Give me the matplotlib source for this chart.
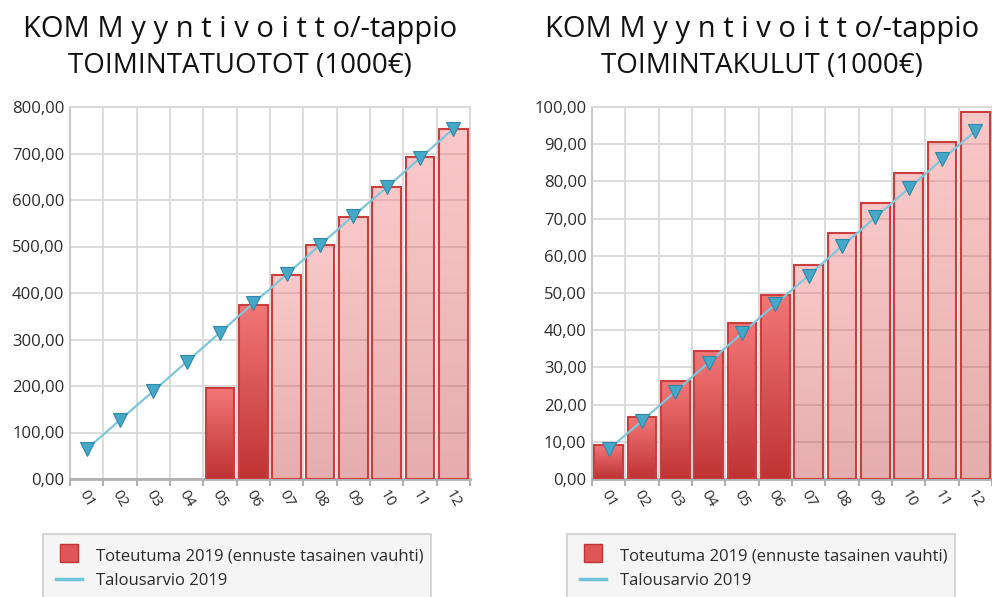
import numpy as np
import matplotlib
matplotlib.use("Agg")
import matplotlib.pyplot as plt
from matplotlib.lines import Line2D
from matplotlib.colors import LinearSegmentedColormap

# data
months = ["01", "02", "03", "04", "05", "06", "07", "08", "09", "10", "11", "12"]
n_actual = 6  # months 01-06 realised, 07-12 forecast at constant pace

tuotot_toteutuma = [0, 0, 0, 0, 195, 375, 438, 503, 563, 628, 692, 753]
tuotot_budjetti = [64, 127, 189, 252, 315, 378, 440, 503, 566, 627, 690, 753]

kulut_toteutuma = [9.1, 16.6, 26.3, 34.4, 41.9, 49.5, 57.5, 66.0, 74.1, 82.2, 90.7, 98.7]
kulut_budjetti = [8.0, 15.6, 23.5, 31.3, 39.2, 47.0, 54.7, 62.6, 70.3, 78.1, 85.9, 93.5]

title1 = "KOM M y y n t i v o i t t o/-tappio"
titles2 = ["TOIMINTATUOTOT (1000€)", "TOIMINTAKULUT (1000€)"]
legend_labels = ["Toteutuma 2019 (ennuste tasainen vauhti)", "Talousarvio 2019"]

plt.rcParams["font.family"] = ["Open Sans", "DejaVu Sans"]

W, H = 992, 597
fig = plt.figure(figsize=(W / 100, H / 100), dpi=100)

red_cmap = LinearSegmentedColormap.from_list("red", ["#bf3333", "#f27676"])
text_col = "#2b2b2b"
grid_col = "#d9d9d9"


def px_axes(x0, y0, x1, y1):
    return fig.add_axes([x0 / W, 1 - y1 / H, (x1 - x0) / W, (y1 - y0) / H])


def draw_chart(ax, vals, budget, ymax, ystep):
    x = np.arange(len(months))
    grad = np.linspace(0, 1, 100).reshape(-1, 1)
    for i, v in enumerate(vals):
        if v <= 0:
            continue
        a = 0.4 if i >= n_actual else 1.0
        bars = ax.bar(x[i], v, width=0.86, facecolor="none",
                      edgecolor="#cc3e3e", linewidth=1.5, zorder=3)
        im = ax.imshow(grad, cmap=red_cmap, aspect="auto", origin="lower",
                       extent=(x[i] - 0.43, x[i] + 0.43, 0, v), alpha=a, zorder=2)
        im.set_clip_path(bars[0])
    ax.set_xlim(-0.5, len(months) - 0.5)
    ax.set_ylim(0, ymax)

    ax.plot(x, budget, color="#7ec6da", lw=1.6, zorder=4,
            marker="v", markersize=10, markerfacecolor="#45a8c8",
            markeredgecolor="#2f88a6", markeredgewidth=0.8)

    ax.set_axisbelow(True)
    yt = np.arange(0, ymax + 0.1, ystep)
    ax.set_yticks(yt)
    ax.set_yticklabels([f"{v:.2f}".replace(".", ",") for v in yt])
    ax.set_xticks(x)
    ax.set_xticklabels(months, rotation=-60, ha="center")
    ax.set_xticks(np.arange(-0.5, len(months)), minor=True)
    ax.tick_params(axis="x", which="major", length=0, pad=6, labelsize=11, colors=text_col)
    ax.tick_params(axis="x", which="minor", length=5, width=1.5, color="#b0b0b0")
    ax.tick_params(axis="y", length=0, pad=4, labelsize=12, colors=text_col)
    ax.grid(True, which="minor", axis="x", color=grid_col, lw=1.3)
    ax.grid(True, which="major", axis="y", color=grid_col, lw=1.3)
    for s in ["top", "right"]:
        ax.spines[s].set_color(grid_col)
        ax.spines[s].set_linewidth(1.3)
    ax.spines["left"].set_color("#c8c8c8")
    ax.spines["left"].set_linewidth(1.5)
    ax.spines["bottom"].set_color("#b0b0b0")
    ax.spines["bottom"].set_linewidth(2)


ax1 = px_axes(70, 107, 470, 479)
draw_chart(ax1, tuotot_toteutuma, tuotot_budjetti, 800, 100)
ax2 = px_axes(592, 107, 992, 479)
draw_chart(ax2, kulut_toteutuma, kulut_budjetti, 100, 10)

# titles
for cx, t2 in zip([240, 762], titles2):
    fig.text(cx / W, 1 - 37 / H, title1, ha="center", va="baseline",
             fontsize=21, color="#111111")
    fig.text(cx / W, 1 - 73 / H, t2, ha="center", va="baseline",
             fontsize=20, color="#111111")

# legends
handles = [Line2D([0], [0], linestyle="none", marker="s", markersize=13,
                  markerfacecolor="#e05555", markeredgecolor="#c03535", markeredgewidth=1.0),
           Line2D([0], [0], color="#72c4da", lw=2.5)]
for x0, x1 in [(43, 431), (567, 955)]:
    leg = fig.legend(handles, legend_labels, loc="upper left",
                     bbox_to_anchor=(x0 / W, 1 - 534 / H, (x1 - x0) / W, 0),
                     mode="expand", fontsize=12, frameon=True, fancybox=False,
                     handlelength=1.6, handleheight=1.1, handletextpad=0.8,
                     labelspacing=0.45, borderpad=0.75, borderaxespad=0)
    leg.get_frame().set_facecolor("#f3f3f3")
    leg.get_frame().set_edgecolor("#c4c4c4")
    leg.get_frame().set_linewidth(1.2)
    for t in leg.get_texts():
        t.set_color(text_col)

fig.savefig("out.png", dpi=100)
